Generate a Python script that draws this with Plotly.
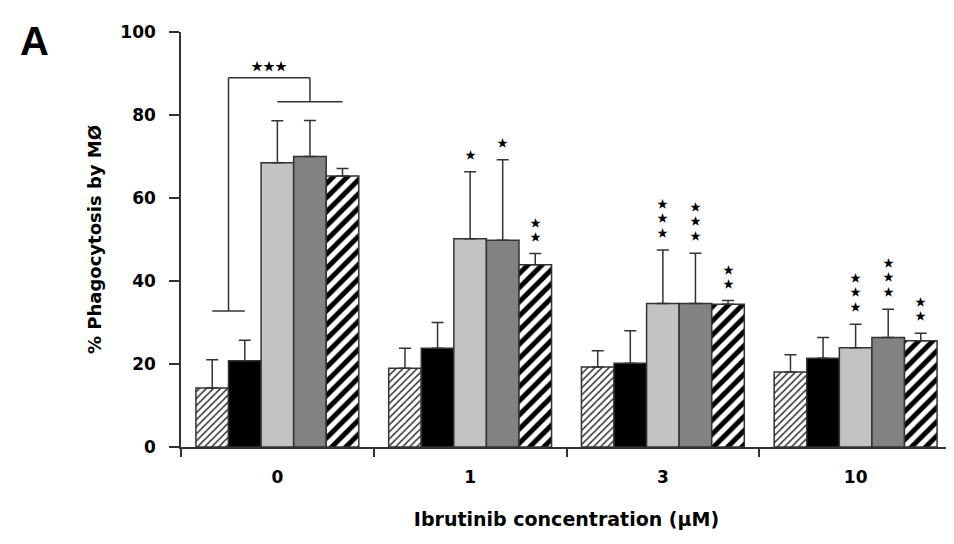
import plotly.graph_objects as go

# ---------------- data ----------------
concentrations = ["0", "1", "3", "10"]
series_names = ["Group 1", "Group 2", "Group 3", "Group 4", "Group 5"]

mean_1 = [14.2, 19.0, 19.3, 18.1]
mean_2 = [20.8, 23.8, 20.2, 21.4]
mean_3 = [68.5, 50.2, 34.6, 23.9]
mean_4 = [70.0, 49.8, 34.6, 26.4]
mean_5 = [65.3, 43.9, 34.4, 25.6]

err_1 = [6.8, 4.8, 3.9, 4.1]
err_2 = [4.9, 6.2, 7.8, 5.0]
err_3 = [10.1, 16.1, 12.9, 5.7]
err_4 = [8.7, 19.4, 12.1, 6.8]
err_5 = [1.8, 2.7, 0.9, 1.8]

sig_1 = ["", "", "", ""]
sig_2 = ["", "", "", ""]
sig_3 = ["", "*", "***", "***"]
sig_4 = ["", "*", "***", "***"]
sig_5 = ["", "**", "**", "**"]

# bracket for the 0 µM comparison: control level, top level, treated level
bracket_levels = [32.8, 89.0, 83.2]
bracket_label = "***"

y_ticks = [0, 20, 40, 60, 80, 100]

# ---------------- styling ----------------
means = [mean_1, mean_2, mean_3, mean_4, mean_5]
errs = [err_1, err_2, err_3, err_4, err_5]
sigs = [sig_1, sig_2, sig_3, sig_4, sig_5]

edge = "#333333"
styles = [
    dict(color="white", pattern=dict(shape="/", size=5, solidity=0.3, fgcolor="#333333",
                                     bgcolor="white", fgopacity=1)),
    dict(color="black"),
    dict(color="#c3c3c3"),
    dict(color="#828282"),
    dict(color="white", pattern=dict(shape="/", size=10, solidity=0.5, fgcolor="black",
                                     bgcolor="white", fgopacity=1)),
]

BARGAP = 0.155
n_series = len(means)
w = (1 - BARGAP) / n_series


def offset(i):
    return (i - (n_series - 1) / 2) * w


FONT = "DejaVu Sans, sans-serif"
STAR_FONT = "Noto Sans CJK JP"
STAR_SIZE = 11

fig = go.Figure()
for i in range(n_series):
    fig.add_trace(go.Bar(
        x=concentrations,
        y=means[i],
        name=series_names[i],
        marker=dict(**styles[i], line=dict(color=edge, width=1.5)),
        error_y=dict(type="data", symmetric=False, array=errs[i],
                     arrayminus=[0] * len(errs[i]),
                     color=edge, thickness=1.5, width=6),
    ))

annotations = []
# significance stars above bars (one stacked text per bar)
for i in range(n_series):
    for g, s in enumerate(sigs[i]):
        if not s:
            continue
        annotations.append(dict(
            x=g + offset(i), y=means[i][g] + errs[i][g], xref="x", yref="y",
            text="<br>".join(["★"] * len(s)), showarrow=False,
            yanchor="bottom", yshift=8,
            font=dict(family=STAR_FONT, size=STAR_SIZE, color="black"),
        ))

# bracket for the 0 µM group
lo, top, hi = bracket_levels
xl = (offset(0) + offset(1)) / 2
xr = offset(3)
shapes = [
    dict(type="line", xref="x", yref="y", x0=offset(0), x1=offset(1), y0=lo, y1=lo),
    dict(type="line", xref="x", yref="y", x0=xl, x1=xl, y0=lo, y1=top),
    dict(type="line", xref="x", yref="y", x0=xl, x1=xr, y0=top, y1=top),
    dict(type="line", xref="x", yref="y", x0=xr, x1=xr, y0=top, y1=hi),
    dict(type="line", xref="x", yref="y", x0=offset(2), x1=offset(4), y0=hi, y1=hi),
]
for s in shapes:
    s["line"] = dict(color=edge, width=1.5)

annotations.append(dict(
    x=(xl + xr) / 2, y=top, xref="x", yref="y", text="★" * len(bracket_label),
    showarrow=False, yanchor="middle", yshift=12,
    font=dict(family=STAR_FONT, size=STAR_SIZE + 1, color="black"),
))

# panel letter
annotations.append(dict(
    x=-0.211, y=1.035, xref="paper", yref="paper", text="<b>A</b>",
    showarrow=False, xanchor="left", yanchor="top",
    font=dict(family="Liberation Sans, Arial, sans-serif", size=40, color="black"),
))

# the page adds an 8px body margin, so the figure is 8px smaller than the window
fig.update_layout(
    width=946, height=536,
    margin=dict(l=173, r=2, t=24, b=97),
    paper_bgcolor="white", plot_bgcolor="white",
    barmode="group", bargap=BARGAP, bargroupgap=0,
    showlegend=False,
    shapes=shapes,
    annotations=annotations,
    font=dict(family=FONT, color="black"),
)

fig.update_xaxes(
    type="category",
    tickvals=concentrations,
    ticktext=[f"<b>{c}</b>" for c in concentrations],
    showline=True, linecolor=edge, linewidth=1.5,
    ticks="outside", tickson="boundaries", ticklen=8, tickwidth=1.5, tickcolor=edge,
    tickfont=dict(family=FONT, size=17, color="black"),
    ticklabelstandoff=14,
    showgrid=False, zeroline=False,
    title=dict(text="<b>Ibrutinib concentration (µM)</b>", standoff=27,
               font=dict(family=FONT, size=19, color="black")),
)
fig.update_yaxes(
    range=[0, 100], tickvals=y_ticks,
    ticktext=[f"<b>{v}</b>" for v in y_ticks],
    showline=True, linecolor=edge, linewidth=1.5,
    ticks="outside", ticklen=10, tickwidth=1.5, tickcolor=edge,
    tickfont=dict(family=FONT, size=17, color="black"),
    ticklabelstandoff=10,
    showgrid=False, zeroline=False,
    title=dict(text="<b>% Phagocytosis by MØ</b>", standoff=14,
               font=dict(family=FONT, size=18, color="black")),
)

fig.write_html("out.html")
